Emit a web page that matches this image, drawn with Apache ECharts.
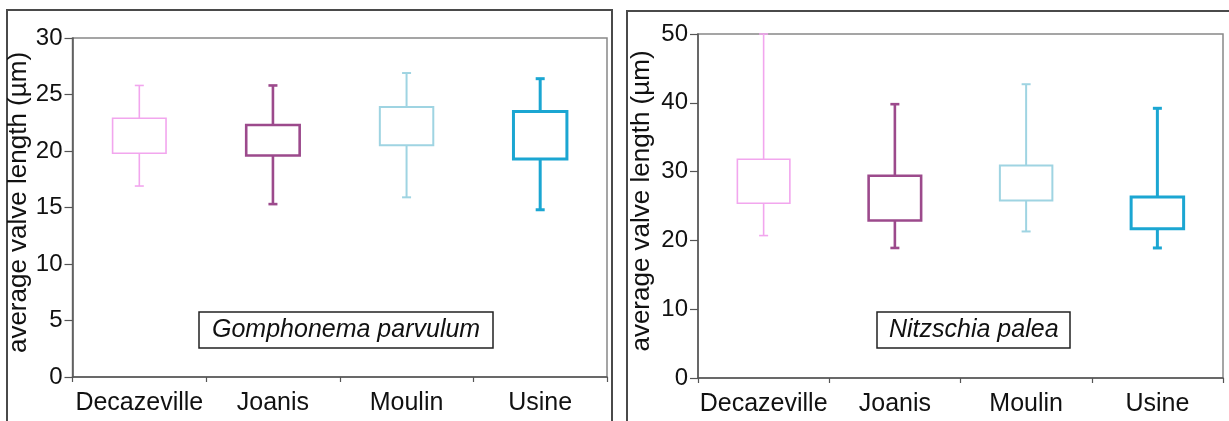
<!DOCTYPE html>
<html>
<head>
<meta charset="utf-8">
<script src="https://cdn.jsdelivr.net/npm/echarts@6/dist/echarts.min.js"></script>
<style>
html,body{margin:0;padding:0;background:#fff;}
#chart{width:1229px;height:421px;}
</style>
</head>
<body>
<div id="chart"></div>
<script>
// ---- data ----
const categories = ['Decazeville', 'Joanis', 'Moulin', 'Usine'];

const leftTitle = 'Gomphonema parvulum';
const leftMin = [16.9, 15.3, 15.9, 14.8];
const leftQ1  = [19.8, 19.6, 20.5, 19.3];
const leftQ3  = [22.9, 22.3, 23.9, 23.5];
const leftMax = [25.8, 25.8, 26.9, 26.4];

const rightTitle = 'Nitzschia palea';
const rightMin = [20.7, 18.9, 21.3, 18.9];
const rightQ1  = [25.4, 22.9, 25.8, 21.7];
const rightQ3  = [31.8, 29.4, 30.9, 26.3];
const rightMax = [50.0, 39.8, 42.7, 39.2];

const yName = 'average valve length (µm)';

// ---- styles ----
const boxColors = ['#f2a6ee', '#9c4a8c', '#9fd4e2', '#1ba6d2'];
const boxWidths = [1.6, 2.6, 2.0, 3.0];
const FONT = '"Liberation Sans", Arial, sans-serif';

function build(minA, q1A, q3A, maxA) {
  return categories.map((c, i) => [i, minA[i], q1A[i], q3A[i], maxA[i]]);
}

function renderItem(params, api) {
  const x = api.value(0);
  const lo = api.coord([x, api.value(1)]);
  const q1 = api.coord([x, api.value(2)]);
  const q3 = api.coord([x, api.value(3)]);
  const hi = api.coord([x, api.value(4)]);
  const band = api.size([1, 0])[0];
  const bw = band * 0.4;
  const cap = 4.5;
  const cx = lo[0];
  const col = boxColors[params.dataIndex];
  const lw = boxWidths[params.dataIndex];
  const st = { stroke: col, lineWidth: lw, fill: null };
  return {
    type: 'group',
    children: [
      { type: 'line', shape: { x1: cx, y1: hi[1], x2: cx, y2: q3[1] }, style: st },
      { type: 'line', shape: { x1: cx, y1: q1[1], x2: cx, y2: lo[1] }, style: st },
      { type: 'line', shape: { x1: cx - cap, y1: hi[1], x2: cx + cap, y2: hi[1] }, style: st },
      { type: 'line', shape: { x1: cx - cap, y1: lo[1], x2: cx + cap, y2: lo[1] }, style: st },
      { type: 'rect', shape: { x: cx - bw / 2, y: q3[1], width: bw, height: q1[1] - q3[1] },
        style: { stroke: col, lineWidth: lw, fill: '#ffffff' } }
    ]
  };
}

function xAxis(gi) {
  return {
    type: 'category', gridIndex: gi, data: categories, boundaryGap: true,
    axisLine: { lineStyle: { color: '#555', width: 1.5 } },
    axisTick: { show: true, length: 5, interval: 0, lineStyle: { color: '#555', width: 1.2 } },
    axisLabel: { color: '#111', fontSize: 25, fontFamily: FONT, margin: 14, interval: 0 },
    splitLine: { show: false }
  };
}
function yAxis(gi, max, interval, gap) {
  return {
    type: 'value', gridIndex: gi, min: 0, max: max, interval: interval,
    name: yName, nameLocation: 'middle', nameGap: gap, nameRotate: 90,
    nameTextStyle: { color: '#111', fontSize: 26, fontFamily: FONT, padding: [0, 0, 0, 10] },
    axisLine: { show: true, lineStyle: { color: '#555', width: 1.5 } },
    axisTick: { show: true, length: 8, lineStyle: { color: '#555', width: 1.2 } },
    axisLabel: { color: '#111', fontSize: 24, fontFamily: FONT, margin: 10 },
    splitLine: { show: false }
  };
}

const chart = echarts.init(document.getElementById('chart'), null, { renderer: 'canvas' });
chart.setOption({
  animation: false,
  backgroundColor: '#ffffff',
  graphic: [
    { type: 'rect', shape: { x: 7, y: 10, width: 605, height: 430 },
      style: { fill: null, stroke: '#4a4a4a', lineWidth: 2 }, z: 0 },
    { type: 'rect', shape: { x: 627, y: 11, width: 610, height: 430 },
      style: { fill: null, stroke: '#4a4a4a', lineWidth: 2 }, z: 0 }
  ],
  title: [
    { text: leftTitle, left: 199, top: 312, padding: [5, 13, 5, 13],
      borderColor: '#222', borderWidth: 1.5, backgroundColor: '#fff',
      textStyle: { fontSize: 25, fontStyle: 'italic', fontWeight: 'normal', color: '#111', fontFamily: FONT, lineHeight: 26 } },
    { text: rightTitle, left: 877, top: 312, padding: [5, 12, 5, 12],
      borderColor: '#222', borderWidth: 1.5, backgroundColor: '#fff',
      textStyle: { fontSize: 25, fontStyle: 'italic', fontWeight: 'normal', color: '#111', fontFamily: FONT, lineHeight: 26 } }
  ],
  grid: [
    { left: 72.5, right: 622, top: 38, bottom: 44, show: true, borderColor: '#888', borderWidth: 1.5, backgroundColor: '#fff' },
    { left: 698, right: 6, top: 34, bottom: 43, show: true, borderColor: '#888', borderWidth: 1.5, backgroundColor: '#fff' }
  ],
  xAxis: [xAxis(0), xAxis(1)],
  yAxis: [yAxis(0, 30, 5, 40), yAxis(1, 50, 10, 43)],
  series: [
    { type: 'custom', xAxisIndex: 0, yAxisIndex: 0, renderItem: renderItem, clip: false,
      encode: { x: 0, y: [1, 2, 3, 4] }, data: build(leftMin, leftQ1, leftQ3, leftMax) },
    { type: 'custom', xAxisIndex: 1, yAxisIndex: 1, renderItem: renderItem, clip: false,
      encode: { x: 0, y: [1, 2, 3, 4] }, data: build(rightMin, rightQ1, rightQ3, rightMax) }
  ]
});
</script>
</body>
</html>
